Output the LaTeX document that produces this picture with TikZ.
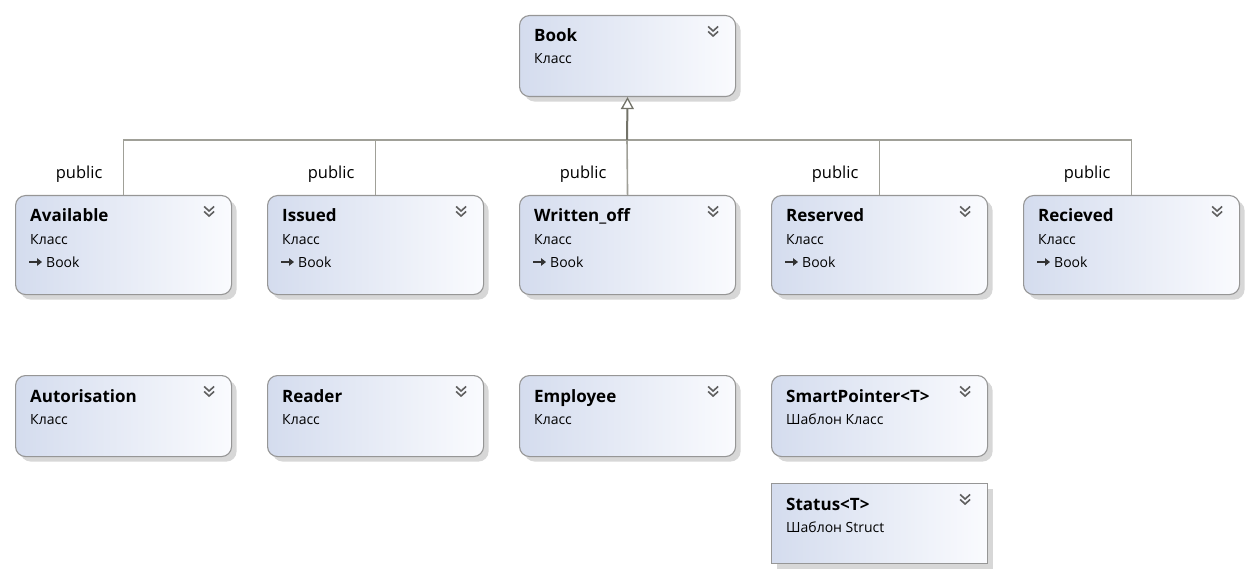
\documentclass[tikz,border=0pt]{standalone}
\usepackage{fontspec}
\setmainfont{Open Sans}
\usetikzlibrary{shadows,arrows.meta,calc}
\definecolor{boxleft}{RGB}{212,220,238}
\definecolor{boxright}{RGB}{250,251,254}
\definecolor{boxborder}{RGB}{150,150,150}
\definecolor{linegray}{RGB}{160,160,152}
\definecolor{trunkgray}{RGB}{115,115,105}
\definecolor{chevgray}{RGB}{95,95,95}
\tikzset{
  cls/.style={draw=boxborder, line width=1.1pt, rounded corners=10pt,
    minimum width=216pt, anchor=north west, inner sep=0pt,
    left color=boxleft, right color=boxright,
    drop shadow={shadow xshift=5pt, shadow yshift=-5pt, fill=black!35, opacity=0.45}},
  ttl/.style={anchor=base west, inner sep=0pt, font=\fontsize{17}{20}\selectfont\bfseries},
  sub/.style={anchor=base west, inner sep=0pt, font=\fontsize{14}{17}\selectfont},
  pub/.style={anchor=base east, inner sep=0pt, font=\fontsize{16.5}{19}\selectfont},
  chev/.style={draw=chevgray, line width=1.6pt},
  conn/.style={draw=linegray, line width=1.6pt},
  trunk/.style={draw=trunkgray, line width=2pt,
    -{Triangle[open, fill=white, length=12pt, width=13pt, line width=1.3pt]}},
  icon/.style={draw=black!80, line width=1.6pt, -{Triangle[length=5pt, width=7.5pt]}}
}
\newcommand\chevrons[1]{%
  \draw[chev] ($(#1.north east)+(-28,11.5)$) -- ++(5,4.5) -- ++(5,-4.5);
  \draw[chev] ($(#1.north east)+(-28,16.5)$) -- ++(5,4.5) -- ++(5,-4.5);}
\newcommand\cbox[6]{% name, x, y, height, title, subtitle
  \node[cls, minimum height=#4pt] (#1) at (#2,#3) {};
  \node[ttl] (#1-t) at ($(#1.north west)+(15,27)$) {#5};
  \node[sub] (#1-s) at ($(#1.north west)+(15,49)$) {#6};
  \chevrons{#1}}
\newcommand\basebook[1]{%
  \draw[icon] ($(#1.north west)+(14,67)$) -- ($(#1.north west)+(27,67)$);
  \node[sub] (#1-b) at ($(#1.north west)+(31,72)$) {Book};}
\begin{document}
\begin{tikzpicture}[x=1pt, y=-1pt]
\useasboundingbox (0,0) rectangle (1252,577);
\cbox{book}{519}{15}{81}{Book}{Класс}
\cbox{avail}{15}{195}{99}{Available}{Класс}
\cbox{issued}{267}{195}{99}{Issued}{Класс}
\cbox{wo}{519}{195}{99}{Written\_off}{Класс}
\cbox{reserved}{771}{195}{99}{Reserved}{Класс}
\cbox{recv}{1023}{195}{99}{Recieved}{Класс}
\basebook{avail}
\basebook{issued}
\basebook{wo}
\basebook{reserved}
\basebook{recv}
\cbox{auth}{15}{375}{81}{Autorisation}{Класс}
\cbox{reader}{267}{375}{81}{Reader}{Класс}
\cbox{emp}{519}{375}{81}{Employee}{Класс}
\cbox{smart}{771}{375}{81}{SmartPointer<T>}{Шаблон Класс}
\begin{scope}[cls/.append style={rounded corners=0pt}]
\cbox{status}{771}{483}{80}{Status<T>}{Шаблон Struct}
\end{scope}
\coordinate (hub) at (627,140);
\draw[conn] (avail.north) |- (hub);
\draw[conn] (issued.north) |- (hub);
\draw[conn] (wo.north) -- (hub);
\draw[conn] (reserved.north) |- (hub);
\draw[conn] (recv.north) |- (hub);
\draw[trunk] (hub) -- (book.south);
\foreach \n in {avail,issued,wo,reserved,recv}{
  \node[pub] (\n-p) at ($(\n.north)+(-21,-16)$) {public};
}
\end{tikzpicture}
\end{document}
